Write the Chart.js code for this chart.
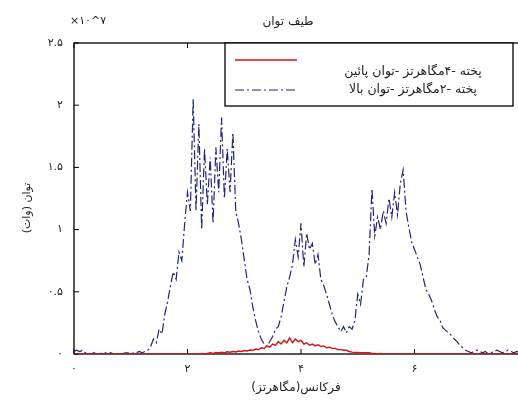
<!DOCTYPE html>
<html>
<head>
<meta charset="utf-8">
<script src="https://cdn.jsdelivr.net/npm/chart.js@4.4.1/dist/chart.umd.min.js"></script>
<style>
  html, body { margin: 0; padding: 0; background: #fff; overflow: hidden; }
  canvas { display: block; }
</style>
</head>
<body>
<canvas id="spectrumCanvas" width="540" height="400"></canvas>
<script>
// power spectrum sampled in 0.05 MHz bins, 0 .. 8 MHz (values x 10^7 W)
const freqStep = 0.05;

// cooked, 2 MHz, high power
const highPower2MHz = [
    0.02, 0.03, 0.02, 0.03, 0.01, 0.01, 0.00, 0.01, 0.00, 0.01,
    0.00, 0.01, 0.00, 0.01, 0.00, 0.00, 0.01, 0.00, 0.01, 0.01,
    0.00, 0.01, 0.01, 0.02, 0.01, 0.02, 0.03, 0.06, 0.12, 0.09,
    0.20, 0.16, 0.32, 0.42, 0.55, 0.66, 0.60, 0.82, 0.75, 1.05,
    1.30, 1.15, 2.05, 1.15, 1.85, 1.00, 1.65, 1.20, 1.58, 1.05,
    1.66, 1.30, 1.90, 1.25, 1.65, 1.30, 1.78, 1.15, 1.05, 0.92,
    0.76, 0.60, 0.52, 0.38, 0.27, 0.18, 0.12, 0.08, 0.06, 0.10,
    0.14, 0.20, 0.22, 0.30, 0.42, 0.54, 0.62, 0.72, 0.92, 0.78,
    1.05, 0.70, 0.97, 0.84, 0.89, 0.72, 0.80, 0.60, 0.55, 0.48,
    0.40, 0.32, 0.26, 0.22, 0.18, 0.22, 0.17, 0.22, 0.20, 0.27,
    0.48, 0.40, 0.60, 0.62, 0.80, 1.33, 0.95, 1.10, 1.00, 1.15,
    1.05, 1.25, 1.10, 1.30, 1.12, 1.37, 1.48, 1.15, 1.02, 0.90,
    0.84, 0.78, 0.72, 0.62, 0.52, 0.48, 0.43, 0.36, 0.30, 0.27,
    0.21, 0.19, 0.17, 0.15, 0.12, 0.10, 0.07, 0.05, 0.03, 0.02,
    0.01, 0.02, 0.03, 0.02, 0.01, 0.02, 0.00, 0.01, 0.02, 0.03,
    0.02, 0.01, 0.02, 0.03, 0.02, 0.01, 0.02, 0.01, 0.02, 0.01,
    0.01
];

// cooked, 4 MHz, low power
const lowPower4MHz = [
    0, 0, 0, 0, 0, 0, 0, 0, 0, 0,
    0, 0, 0, 0, 0, 0, 0, 0, 0, 0,
    0, 0, 0, 0, 0, 0, 0, 0, 0, 0,
    0, 0, 0, 0, 0, 0, 0, 0, 0, 0,
    0, 0, 0, 0, 0, 0.005, 0, 0.005, 0.010, 0.005,
    0.012, 0.008, 0.015, 0.010, 0.018, 0.014, 0.020, 0.016, 0.024, 0.020,
    0.028, 0.024, 0.032, 0.028, 0.040, 0.035, 0.050, 0.045, 0.065, 0.055,
    0.080, 0.070, 0.100, 0.080, 0.110, 0.090, 0.130, 0.090, 0.120, 0.100,
    0.110, 0.080, 0.090, 0.070, 0.080, 0.065, 0.075, 0.060, 0.065, 0.050,
    0.055, 0.045, 0.045, 0.035, 0.035, 0.030, 0.030, 0.020, 0.015, 0.012,
    0.012, 0.010, 0.010, 0.010, 0.010, 0.005, 0.005, 0, 0.005, 0,
    0, 0, 0, 0, 0, 0, 0, 0, 0, 0,
    0, 0, 0, 0, 0, 0, 0, 0, 0, 0,
    0, 0, 0, 0, 0, 0, 0, 0, 0, 0,
    0, 0, 0, 0, 0, 0, 0, 0, 0, 0,
    0, 0, 0, 0, 0, 0, 0, 0, 0, 0,
    0
];

const xTickLabels = ['۰', '۲', '۴', '۶', '۸'];
const yTickLabels = ['۰', '۰.۵', '۱', '۱.۵', '۲', '۲.۵'];
const seriesNames = ['پخته -۴مگاهرتز -توان پائین', 'پخته -۲مگاهرتز -توان بالا'];
const chartTitle = 'طیف توان';
const xTitle = 'فرکانس(مگاهرتز)';
const yTitle = 'توان (وات)';
const scaleNote = '×۱۰^۷';

const FONT = '"DejaVu Sans", sans-serif';
const RED = '#d41414';
const NAVY = '#1e2678';

const toPoints = vals => vals.map((v, i) => ({ x: +(i * freqStep).toFixed(2), y: v }));

// axes box with inward ticks, titles, exponent note and boxed legend
const figureDecor = {
    id: 'figureDecor',
    beforeDatasetsDraw(chart) {
        const { ctx, chartArea: a, scales: { x, y } } = chart;
        ctx.save();
        ctx.strokeStyle = '#000';
        ctx.lineWidth = 1.3;
        ctx.strokeRect(a.left, a.top, a.right - a.left, a.bottom - a.top);
        ctx.lineWidth = 1;
        ctx.beginPath();
        x.ticks.forEach(t => {
            const px = x.getPixelForValue(t.value);
            ctx.moveTo(px, a.bottom); ctx.lineTo(px, a.bottom - 5);
            ctx.moveTo(px, a.top); ctx.lineTo(px, a.top + 5);
        });
        y.ticks.forEach(t => {
            const py = y.getPixelForValue(t.value);
            ctx.moveTo(a.left, py); ctx.lineTo(a.left + 5, py);
            ctx.moveTo(a.right, py); ctx.lineTo(a.right - 5, py);
        });
        ctx.stroke();
        ctx.restore();
    },
    afterDraw(chart) {
        const { ctx, chartArea: a } = chart;
        ctx.save();
        ctx.fillStyle = '#222';
        ctx.textBaseline = 'middle';
        ctx.textAlign = 'center';

        ctx.direction = 'ltr';
        ctx.font = '11px ' + FONT;
        ctx.fillText(scaleNote, a.left + 14, 21);

        ctx.direction = 'rtl';
        ctx.font = '12px ' + FONT;
        ctx.fillText(chartTitle, a.left + 214, 22);
        ctx.fillText(xTitle, a.left + 222, 388);

        ctx.save();
        ctx.font = '11px ' + FONT;
        ctx.translate(27, 208);
        ctx.rotate(-Math.PI / 2);
        ctx.fillText(yTitle, 0, 0);
        ctx.restore();

        // legend box
        const bx = a.left + 151, by = a.top, bw = 288, bh = 63;
        ctx.fillStyle = '#fff';
        ctx.fillRect(bx, by, bw, bh);
        ctx.strokeStyle = '#000';
        ctx.lineWidth = 1.3;
        ctx.strokeRect(bx, by, bw, bh);

        const rows = [
            { lineY: by + 17, textY: by + 29 },
            { lineY: by + 47, textY: by + 47 }
        ];
        chart.data.datasets.forEach((d, i) => {
            ctx.beginPath();
            ctx.strokeStyle = d.borderColor;
            ctx.lineWidth = d.borderWidth;
            ctx.setLineDash(d.borderDash || []);
            ctx.moveTo(bx + 10, rows[i].lineY);
            ctx.lineTo(bx + 72, rows[i].lineY);
            ctx.stroke();
            ctx.setLineDash([]);
            ctx.fillStyle = '#222';
            ctx.font = '12.5px ' + FONT;
            ctx.fillText(d.label, bx + 188, rows[i].textY);
        });
        ctx.restore();
    }
};

new Chart(document.getElementById('spectrumCanvas').getContext('2d'), {
    type: 'line',
    data: {
        datasets: [{
            label: seriesNames[0],
            data: toPoints(lowPower4MHz),
            borderColor: RED,
            borderWidth: 1.4,
            pointRadius: 0,
            tension: 0
        }, {
            label: seriesNames[1],
            data: toPoints(highPower2MHz),
            borderColor: NAVY,
            borderWidth: 1.2,
            borderDash: [9, 3, 2, 3],
            pointRadius: 0,
            tension: 0
        }]
    },
    options: {
        responsive: false,
        animation: false,
        layout: { padding: { top: 43, right: 12, left: 0, bottom: 0 } },
        plugins: {
            legend: { display: false },
            title: { display: false },
            tooltip: { enabled: false }
        },
        scales: {
            x: {
                type: 'linear',
                min: 0,
                max: 8,
                ticks: {
                    stepSize: 2,
                    padding: 9,
                    color: '#222',
                    font: { family: FONT, size: 11 },
                    callback: (v, i) => xTickLabels[i]
                },
                grid: { display: false, drawTicks: false },
                border: { display: false },
                afterFit: s => { s.height = 46; }
            },
            y: {
                min: 0,
                max: 2.5,
                ticks: {
                    stepSize: 0.5,
                    padding: 11,
                    color: '#222',
                    font: { family: FONT, size: 11 },
                    callback: (v, i) => yTickLabels[i]
                },
                grid: { display: false, drawTicks: false },
                border: { display: false },
                afterFit: s => { s.width = 74; }
            }
        }
    },
    plugins: [figureDecor]
});
</script>
</body>
</html>
